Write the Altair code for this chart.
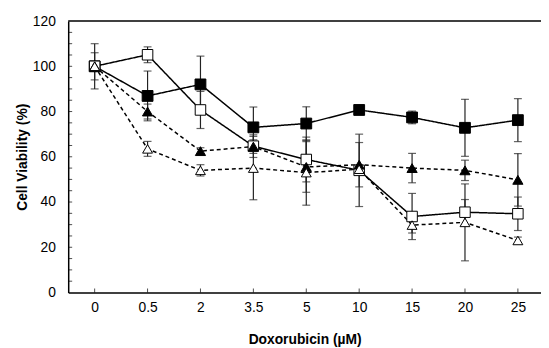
import altair as alt
import pandas as pd

# ---- data ----
x_labels = ["0", "0.5", "2", "3.5", "5", "10", "15", "20", "25"]
series_names = ["Filled square", "Open square", "Filled triangle", "Open triangle"]

filled_sq = [100, 86.9, 92.0, 73.0, 74.7, 80.7, 77.4, 72.8, 76.2]
filled_sq_err = [10, 11, 12.5, 9, 7.4, 1.5, 2.8, 12.6, 9.5]
open_sq = [100, 105.1, 80.7, 64.7, 58.8, 54.0, 33.6, 35.5, 34.8]
open_sq_err = [6, 3.5, 8.2, 5, 9.9, 16, 10.2, 5.6, 7.4]
filled_tri = [100, 80.0, 62.5, 64.5, 55.5, 56.5, 55.0, 54.0, 49.8]
filled_tri_err = [2, 3.3, 1.5, 3, 11.2, 9.8, 6.5, 4.5, 11.6]
open_tri = [100, 63.5, 54.0, 55.0, 53.0, 54.5, 29.8, 31.0, 23.0]
open_tri_err = [2, 3.3, 2.5, 14, 14.4, 2, 3.5, 17, 1.5]

y_minor_ticks = list(range(5, 120, 5))

series = [
    (series_names[0], filled_sq, filled_sq_err),
    (series_names[1], open_sq, open_sq_err),
    (series_names[2], filled_tri, filled_tri_err),
    (series_names[3], open_tri, open_tri_err),
]

rows = []
for name, vals, errs in series:
    for i, (v, e) in enumerate(zip(vals, errs)):
        rows.append({"series": name, "xi": i, "v": v, "lo": v - e, "hi": v + e})
df = pd.DataFrame(rows)
caps = pd.concat([
    df[["series", "xi"]].assign(v=df["lo"]),
    df[["series", "xi"]].assign(v=df["hi"]),
])
yt = pd.DataFrame({"v": y_minor_ticks})
xt = pd.DataFrame({"xi": list(range(len(x_labels)))})

W, H = 479, 275
FONT = "Liberation Sans"

label_expr = "[" + ",".join("'%s'" % s for s in x_labels) + "][datum.value]"
xscale = alt.Scale(domain=[-0.5, 8.437], nice=False, zero=False)
yscale = alt.Scale(domain=[0, 120], nice=False, zero=True)
xaxis = alt.Axis(values=list(range(len(x_labels))), labelExpr=label_expr, ticks=False,
                 grid=False, domainColor="black", domainWidth=1.5, labelFontSize=14,
                 labelPadding=8, labelColor="black", labelFont=FONT,
                 titleFontSize=14, titleFontWeight="bold", titleFont=FONT,
                 titleColor="black", titlePadding=19)
yaxis = alt.Axis(values=list(range(0, 121, 20)), ticks=False, grid=False,
                 domainColor="black", domainWidth=1.5, labelFontSize=14,
                 labelPadding=13, labelColor="black", labelFont=FONT,
                 titleFontSize=14, titleFontWeight="bold", titleFont=FONT,
                 titleColor="black", titlePadding=3)


def X(field="xi"):
    return alt.X(field + ":Q", scale=xscale, axis=xaxis, title="Doxorubicin (µM)")


def Y(field="v"):
    return alt.Y(field + ":Q", scale=yscale, axis=yaxis, title="Cell Viability (%)")


base = alt.Chart(df)

lines = base.mark_line(color="black", strokeWidth=1.5).encode(
    x=X(), y=Y(),
    strokeDash=alt.StrokeDash("series:N", scale=alt.Scale(domain=series_names,
                              range=[[1, 0], [1, 0], [4, 3], [4, 3]]), legend=None),
)

err_rules = base.mark_rule(color="#222", strokeWidth=1.2).encode(
    x=X(), y=Y("lo"), y2="hi:Q"
)

err_caps = alt.Chart(caps).mark_tick(color="#222", thickness=1.2, size=8,
                                     orient="horizontal").encode(x=X(), y=Y())

points = base.mark_point(filled=True, stroke="black", strokeWidth=1, opacity=1).encode(
    x=X(), y=Y(),
    shape=alt.Shape("series:N", scale=alt.Scale(domain=series_names,
                    range=["square", "square", "triangle-up", "triangle-up"]), legend=None),
    fill=alt.Fill("series:N", scale=alt.Scale(domain=series_names,
                  range=["black", "white", "black", "white"]), legend=None),
    size=alt.Size("series:N", scale=alt.Scale(domain=series_names,
                  range=[120, 100, 110, 100]), legend=None),
)

y_ticks = alt.Chart(yt).mark_tick(color="black", thickness=1, size=4,
                                  orient="horizontal").encode(y=Y(), x=alt.value(2))
x_ticks = alt.Chart(xt).mark_tick(color="black", thickness=1, size=4,
                                  orient="vertical").encode(x=X(), y=alt.value(H - 2))

top_border = alt.Chart(alt.Data(values=[{}])).mark_rule(
    color="black", strokeWidth=1.5).encode(x=alt.value(0), x2=alt.value(W), y=alt.value(0))

chart = alt.layer(top_border, y_ticks, x_ticks, lines, err_rules, err_caps, points).properties(
    width=W, height=H,
    autosize=alt.AutoSizeParams(type="none"),
    padding={"left": 61, "top": 11, "right": 0, "bottom": 54},
    background="white",
).configure_view(stroke=None)

chart.save("out.html", embed_options={"renderer": "svg", "actions": False})
